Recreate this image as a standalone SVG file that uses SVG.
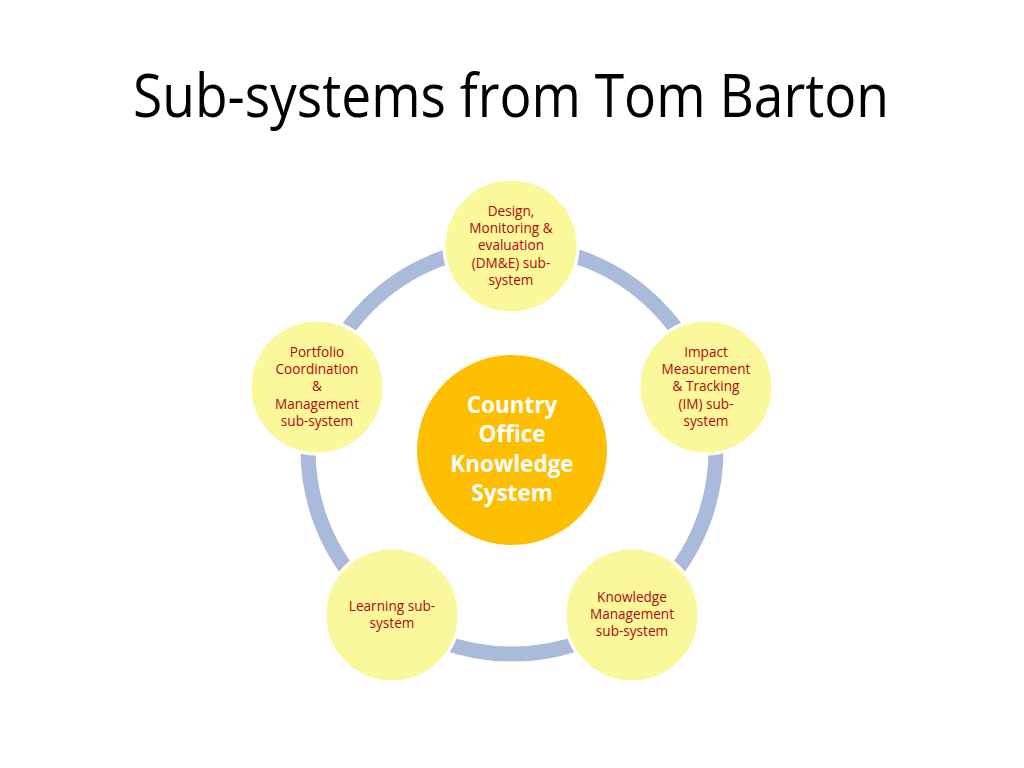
<svg xmlns="http://www.w3.org/2000/svg" width="1024" height="768" viewBox="0 0 1024 768">
<style>
.sat{fill:#fbf79b;stroke:#ffffff;stroke-width:3}
.lbl{font-family:"Open Sans","Liberation Sans",sans-serif;font-size:13.6px;fill:#b00a0a;text-anchor:middle}
.ctr{font-family:"Open Sans","Liberation Sans",sans-serif;font-size:22.5px;font-weight:bold;fill:#ffffff;text-anchor:middle}
</style>
<rect width="1024" height="768" fill="#ffffff"/>
<text x="511" y="117" font-family="Open Sans, Liberation Sans, sans-serif" font-size="60" fill="#000000" text-anchor="middle" textLength="756" lengthAdjust="spacingAndGlyphs">Sub-systems from Tom Barton</text>
<g id="connectors">
<circle cx="512" cy="450" r="204" fill="none" stroke="#aabadb" stroke-width="15"/>
</g>
<g id="center">
<circle cx="512" cy="450" r="95" fill="#fdbf00"/>
<text class="ctr" x="512" y="413">Country</text>
<text class="ctr" x="512" y="442">Office</text>
<text class="ctr" x="512" y="472">Knowledge</text>
<text class="ctr" x="512" y="501">System</text>
</g>
<g id="dme">
<circle class="sat" cx="511" cy="246" r="67"/>
<text class="lbl" x="511" y="216">Design,</text>
<text class="lbl" x="511" y="233">Monitoring &amp;</text>
<text class="lbl" x="511" y="250">evaluation</text>
<text class="lbl" x="511" y="268">(DM&amp;E) sub-</text>
<text class="lbl" x="511" y="285">system</text>
</g>
<g id="im">
<circle class="sat" cx="706" cy="387" r="67"/>
<text class="lbl" x="706" y="357">Impact</text>
<text class="lbl" x="706" y="374">Measurement</text>
<text class="lbl" x="706" y="391">&amp; Tracking</text>
<text class="lbl" x="706" y="409">(IM) sub-</text>
<text class="lbl" x="706" y="426">system</text>
</g>
<g id="km">
<circle class="sat" cx="632" cy="615" r="67"/>
<text class="lbl" x="632" y="602">Knowledge</text>
<text class="lbl" x="632" y="619">Management</text>
<text class="lbl" x="632" y="636">sub-system</text>
</g>
<g id="learning">
<circle class="sat" cx="392" cy="615" r="67"/>
<text class="lbl" x="392" y="611">Learning sub-</text>
<text class="lbl" x="392" y="628">system</text>
</g>
<g id="portfolio">
<circle class="sat" cx="317" cy="387" r="67"/>
<text class="lbl" x="317" y="357">Portfolio</text>
<text class="lbl" x="317" y="374">Coordination</text>
<text class="lbl" x="317" y="391">&amp;</text>
<text class="lbl" x="317" y="409">Management</text>
<text class="lbl" x="317" y="426">sub-system</text>
</g>
</svg>
